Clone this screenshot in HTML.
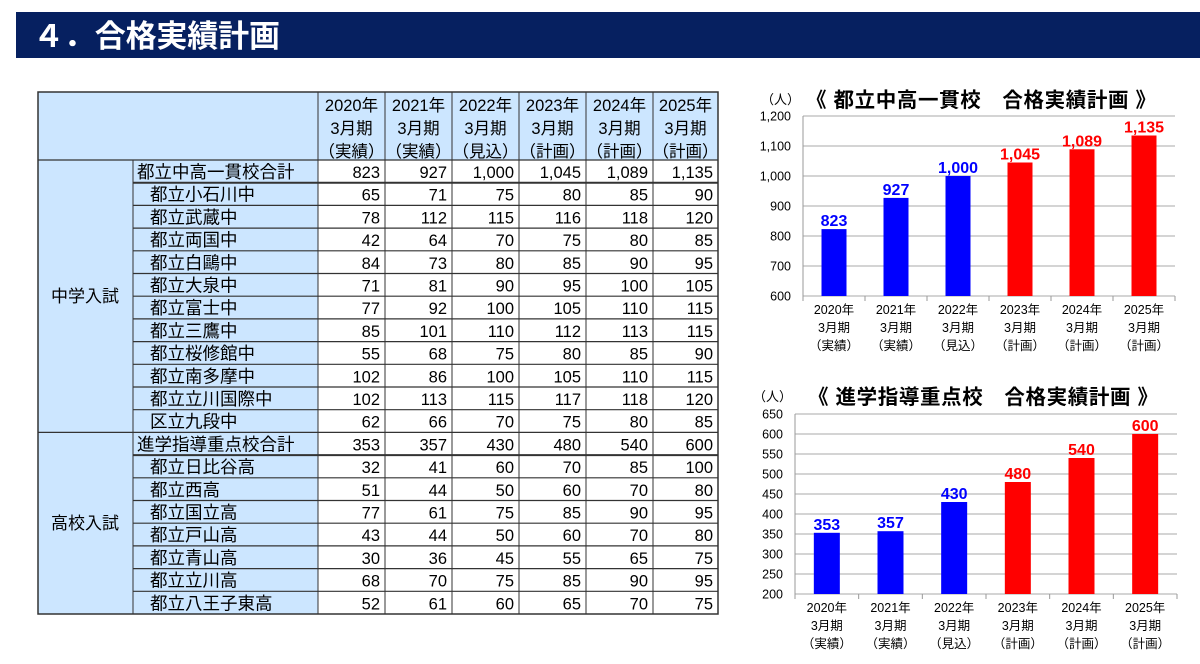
<!DOCTYPE html>
<html><head><meta charset="utf-8"><style>
html,body{margin:0;padding:0;background:#fff;}
svg{display:block;font-family:"Liberation Sans","Noto Sans CJK JP",sans-serif;}
</style></head><body>
<svg id="s" width="1200" height="664" xmlns="http://www.w3.org/2000/svg">
<rect x="0" y="0" width="1200" height="664" fill="#fff"/>
<rect x="16" y="12" width="1184" height="46" fill="#062060"/>
<text x="33" y="47" fill="#fff" font-size="31" font-weight="bold" textLength="247" lengthAdjust="spacing">４．合格実績計画</text>
</svg>
<script>
const s=document.getElementById('s');const NS='http://www.w3.org/2000/svg';
function el(t,a,txt){const e=document.createElementNS(NS,t);for(const k in a)e.setAttribute(k,a[k]);if(txt!==undefined)e.textContent=txt;s.appendChild(e);return e;}
const cols=[318,385,452,519,586,653,718];
const L=38,G=133,N=318,T=92,H=160,R=22.7;
const rows=[["都立中高一貫校合計",823,927,1000,1045,1089,1135],["都立小石川中",65,71,75,80,85,90],["都立武蔵中",78,112,115,116,118,120],["都立両国中",42,64,70,75,80,85],["都立白鷗中",84,73,80,85,90,95],["都立大泉中",71,81,90,95,100,105],["都立富士中",77,92,100,105,110,115],["都立三鷹中",85,101,110,112,113,115],["都立桜修館中",55,68,75,80,85,90],["都立南多摩中",102,86,100,105,110,115],["都立立川国際中",102,113,115,117,118,120],["区立九段中",62,66,70,75,80,85],
["進学指導重点校合計",353,357,430,480,540,600],["都立日比谷高",32,41,60,70,85,100],["都立西高",51,44,50,60,70,80],["都立国立高",77,61,75,85,90,95],["都立戸山高",43,44,50,60,70,80],["都立青山高",30,36,45,55,65,75],["都立立川高",68,70,75,85,90,95],["都立八王子東高",52,61,60,65,70,75]];
const B=H+R*20;
el('rect',{x:L,y:T,width:N-L,height:B-T,fill:'#cce6ff'});
el('rect',{x:N,y:T,width:718-N,height:H-T,fill:'#cce6ff'});
const fmt=n=>n.toLocaleString('en-US');
rows.forEach((r,i)=>{const y=H+i*R;const tot=(i==0||i==12);
 el('text',{x:tot?137:150,y:y+18,'font-size':17.5,fill:'#000'},r[0]);
 for(let j=0;j<6;j++)el('text',{x:cols[j+1]-5,y:y+18,'font-size':16.5,'text-anchor':'end',fill:'#000'},fmt(r[j+1]));
 if(i>0)el('line',{x1:(i==12)?L:G,x2:718,y1:y,y2:y,stroke:'#333','stroke-width':(i==1||i==13)?2:1.2});
});
el('line',{x1:L,x2:718,y1:H,y2:H,stroke:'#333','stroke-width':1.2});
el('rect',{x:L,y:T,width:718-L,height:B-T,fill:'none',stroke:'#333','stroke-width':1.5});
el('line',{x1:G,x2:G,y1:H,y2:B,stroke:'#333'});
cols.forEach(x=>el('line',{x1:x,x2:x,y1:T,y2:B,stroke:'#333'}));
el('text',{x:85,y:H+R*6+6,'font-size':17,'text-anchor':'middle'},'中学入試');
el('text',{x:85,y:H+R*16+6,'font-size':17,'text-anchor':'middle'},'高校入試');
const yrs=['2020','2021','2022','2023','2024','2025'],sub=['（実績）','（実績）','（見込）','（計画）','（計画）','（計画）'];
for(let j=0;j<6;j++){const cx=(cols[j]+cols[j+1])/2;
 el('text',{x:cx,y:111,'font-size':16.5,'text-anchor':'middle'},yrs[j]+'年');
 el('text',{x:cx,y:134,'font-size':16.5,'text-anchor':'middle'},'3月期');
 el('text',{x:cx,y:157,'font-size':16.5,'text-anchor':'middle'},sub[j]);}
function chart(o){
 const {l,r,top,bot,min,max,step,vals,title,ty,bw,tx}=o;
 const sc=(bot-top)/(max-min);
 for(let v=min;v<=max;v+=step){const y=bot-(v-min)*sc;
  el('line',{x1:l,x2:r,y1:y,y2:y,stroke:'#bbb','stroke-width':1.2});
  el('text',{x:l-12,y:y+4.5,'font-size':12.5,'text-anchor':'end'},fmt(v));}
 el('line',{x1:l,x2:l,y1:top,y2:bot,stroke:'#999'});
 const cw=(r-l)/6;
 for(let j=0;j<=6;j++)el('line',{x1:l+j*cw,x2:l+j*cw,y1:bot,y2:bot+5,stroke:'#999'});
 el('text',{x:l-42,y:ty,'font-size':13},'（人）');
 el('text',{x:tx,y:ty+3,'font-size':20.5,'font-weight':'bold','textLength':350,'lengthAdjust':'spacing'},title);
 vals.forEach((v,j)=>{const cx=l+cw*(j+.5),y=bot-(v-min)*sc,c=j<3?'#0000ff':'#ff0000';
  el('rect',{x:cx-bw/2,y:y,width:bw,height:bot-y,fill:c});
  el('text',{x:cx,y:y-3,'font-size':16,'font-weight':'bold','text-anchor':'middle',fill:c},fmt(v));
  el('text',{x:cx,y:bot+18,'font-size':12.5,'text-anchor':'middle'},yrs[j]+'年');
  el('text',{x:cx,y:bot+36,'font-size':12.5,'text-anchor':'middle'},'3月期');
  el('text',{x:cx,y:bot+54,'font-size':12.5,'text-anchor':'middle'},sub[j]);});
}
chart({l:803,r:1175,top:116,bot:296,min:600,max:1200,step:100,vals:[823,927,1000,1045,1089,1135],title:'《 都立中高一貫校　合格実績計画 》',ty:104,bw:25,tx:806});
chart({l:795,r:1177,top:414,bot:594,min:200,max:650,step:50,vals:[353,357,430,480,540,600],title:'《 進学指導重点校　合格実績計画 》',ty:401,bw:26,tx:808});
</script>
</body></html>
